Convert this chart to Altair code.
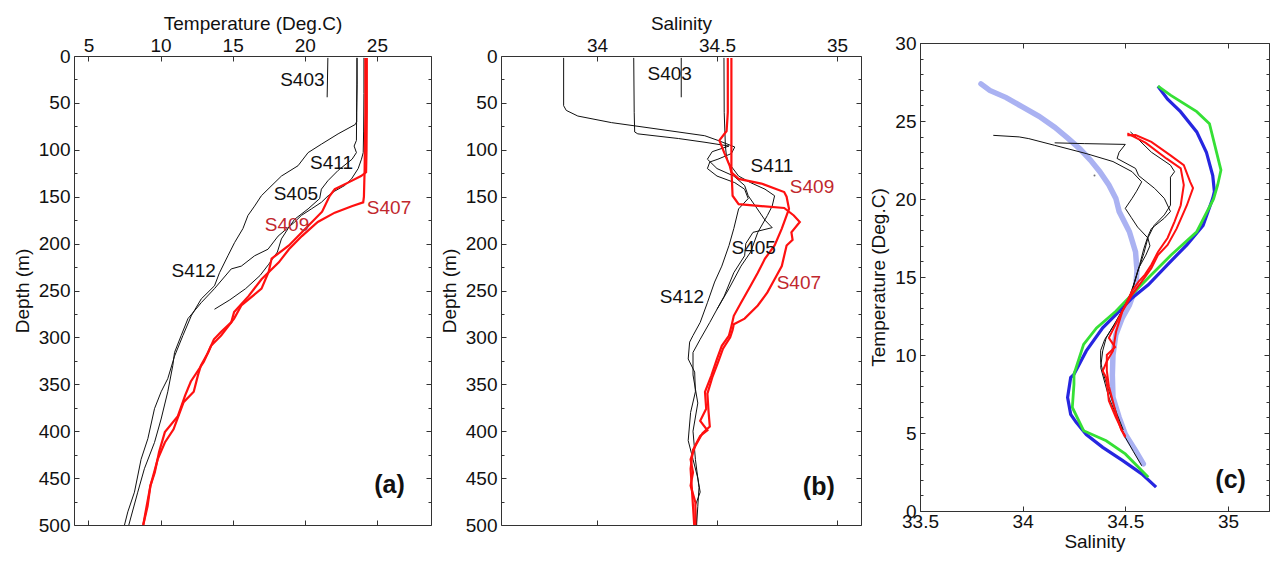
import altair as alt
import pandas as pd

FONT = "Liberation Sans"

# ---------------- Panel (a): temperature profiles (depth in m, temperature in deg C)
A_S403_D = [2, 44]
A_S403_T = [21.6, 21.55]
A_S412_D = [2, 30, 60, 70, 73, 83, 94, 103, 117, 128, 142, 149, 160, 170, 184, 199, 213, 231, 245, 259, 277, 298, 320, 344, 358, 376, 408, 430, 465, 486, 500]
A_S412_T = [23.62, 23.63, 23.6, 23.6, 23.5, 22.31, 21.15, 20.23, 19.53, 18.38, 17.45, 16.99, 16.52, 16.06, 15.71, 15.13, 14.67, 14.09, 13.74, 12.82, 12.13, 11.55, 10.97, 10.5, 10.04, 9.58, 9.12, 8.65, 8.19, 7.73, 7.5]
A_S411_D = [2, 40, 80, 103, 110, 120, 131, 138, 144, 149, 156, 163, 170, 177, 192, 206, 213, 224, 227, 248, 263, 280, 298, 316, 330, 358, 387, 412, 440, 465, 500]
A_S411_T = [24.1, 24.1, 24.08, 24.05, 23.93, 23.7, 23.24, 22.77, 22.08, 21.62, 21.15, 20.46, 19.76, 19.3, 18.15, 17.45, 16.52, 15.6, 14.9, 13.74, 12.82, 11.9, 11.43, 10.97, 10.85, 10.5, 10.04, 9.58, 8.88, 8.42, 7.8]
A_S405_D = [2, 50, 90, 96, 103, 110, 122, 133, 142, 152, 163, 174, 184, 195, 209, 222, 234, 248, 260, 270]
A_S405_T = [23.62, 23.6, 23.58, 23.42, 23.58, 23.28, 22.31, 21.6, 21.15, 21.03, 20.23, 19.3, 18.84, 18.38, 18.1, 17.5, 16.9, 15.9, 14.8, 13.74]
A_S409_D = [2, 60, 100, 124, 128, 135, 142, 149, 166, 188, 202, 216, 230, 248, 266, 280, 298, 309, 326, 347, 362, 384, 401, 422, 444, 458, 483, 500]
A_S409_T = [24.3, 24.3, 24.28, 24.25, 23.9, 23.0, 22.08, 21.73, 21.2, 19.8, 18.9, 17.7, 17.5, 17.0, 15.6, 15.1, 14.2, 13.5, 13.0, 12.1, 11.7, 11.2, 10.3, 9.9, 9.6, 9.3, 9.0, 8.8]
A_S407_D = [2, 60, 120, 150, 156, 160, 167, 177, 192, 206, 220, 238, 256, 273, 284, 294, 302, 316, 330, 340, 358, 369, 398, 412, 430, 458, 480, 500]
A_S407_T = [24.2, 24.2, 24.15, 24.1, 24.05, 23.3, 22.08, 20.9, 19.8, 18.9, 18.2, 17.0, 16.1, 15.1, 14.9, 14.2, 13.7, 13.3, 12.8, 12.6, 12.3, 11.6, 10.9, 10.3, 9.8, 9.3, 9.1, 8.8]

A_LAB_BLACK = ["S403", "S411", "S405", "S412"]
A_LAB_BLACK_X = [19.83, 21.85, 19.38, 12.3]
A_LAB_BLACK_Y = [26, 114, 147, 229]
A_LAB_RED = ["S409", "S407"]
A_LAB_RED_X = [18.77, 25.84]
A_LAB_RED_Y = [180, 162]

# ---------------- Panel (b): salinity profiles
B_S403_D = [2, 44]
B_S403_S = [34.351, 34.351]
B_S412_D = [2, 53, 58, 64, 71, 76, 85, 90, 97, 104, 110, 113, 120, 128, 135, 142, 152, 163, 184, 202, 224, 241, 263, 284, 298, 305, 323, 337, 358, 380, 410, 430, 450, 465, 479, 500]
B_S412_S = [33.861, 33.861, 33.872, 33.92, 34.06, 34.2, 34.449, 34.504, 34.574, 34.56, 34.504, 34.47, 34.46, 34.5, 34.574, 34.615, 34.63, 34.59, 34.57, 34.55, 34.52, 34.49, 34.46, 34.43, 34.40, 34.386, 34.38, 34.407, 34.41, 34.39, 34.38, 34.40, 34.42, 34.43, 34.41, 34.415]
B_S411_D = [2, 60, 81, 83, 88, 92, 96, 102, 110, 120, 128, 138, 149, 160, 175, 183, 188, 200, 213, 231, 256, 284, 302, 316, 340, 370, 400, 430, 460, 480, 500]
B_S411_S = [34.153, 34.155, 34.157, 34.17, 34.34, 34.45, 34.55, 34.48, 34.46, 34.5, 34.57, 34.615, 34.63, 34.66, 34.70, 34.73, 34.65, 34.62, 34.615, 34.57, 34.53, 34.47, 34.43, 34.40, 34.40, 34.42, 34.40, 34.41, 34.425, 34.42, 34.415]
B_S405_D = [2, 60, 96, 106, 113, 128, 135, 142, 149, 160, 170, 188, 209, 224, 248, 270]
B_S405_S = [34.529, 34.53, 34.535, 34.539, 34.546, 34.59, 34.64, 34.70, 34.74, 34.73, 34.71, 34.67, 34.64, 34.60, 34.55, 34.50]
B_S409_D = [2, 60, 80, 90, 103, 117, 124, 131, 136, 145, 150, 163, 184, 202, 216, 231, 245, 263, 277, 288, 298, 309, 323, 341, 358, 376, 389, 399, 405, 415, 430, 444, 458, 476, 500]
B_S409_S = [34.545, 34.545, 34.54, 34.51, 34.53, 34.553, 34.56, 34.59, 34.685, 34.78, 34.79, 34.80, 34.77, 34.74, 34.70, 34.67, 34.64, 34.60, 34.57, 34.56, 34.55, 34.52, 34.50, 34.476, 34.45, 34.455, 34.43, 34.46, 34.43, 34.41, 34.39, 34.40, 34.39, 34.41, 34.41]
B_S407_D = [2, 60, 120, 149, 158, 162, 170, 177, 188, 196, 202, 213, 224, 238, 252, 266, 280, 286, 292, 300, 312, 326, 343, 360, 380, 395, 402, 420, 440, 460, 480, 500]
B_S407_S = [34.56, 34.56, 34.56, 34.565, 34.59, 34.78, 34.82, 34.845, 34.81, 34.815, 34.79, 34.78, 34.77, 34.74, 34.71, 34.67, 34.615, 34.57, 34.565, 34.555, 34.525, 34.505, 34.48, 34.46, 34.465, 34.47, 34.44, 34.40, 34.39, 34.395, 34.40, 34.405]

B_LAB_BLACK = ["S403", "S411", "S405", "S412"]
B_LAB_BLACK_X = [34.303, 34.729, 34.653, 34.354]
B_LAB_BLACK_Y = [19, 117, 205, 257]
B_LAB_RED = ["S409", "S407"]
B_LAB_RED_X = [34.896, 34.841]
B_LAB_RED_Y = [140, 242]

# ---------------- Panel (c): T-S diagram (salinity, temperature)
C_LAV_S = [33.797, 33.84, 33.92, 33.999, 34.08, 34.156, 34.22, 34.28, 34.33, 34.376, 34.42, 34.454, 34.47, 34.52, 34.55, 34.557, 34.55, 34.52, 34.486, 34.454, 34.44, 34.437, 34.44, 34.47, 34.5, 34.55, 34.588]
C_LAV_T = [27.38, 26.96, 26.5, 25.9, 25.3, 24.6, 23.9, 23.2, 22.5, 21.75, 20.9, 20.04, 19.2, 17.9, 16.6, 15.4, 14.3, 13.2, 12.4, 11.3, 10.0, 8.7, 7.28, 6.0, 4.93, 3.87, 3.02]
C_BLUE_S = [34.659, 34.706, 34.769, 34.848, 34.895, 34.926, 34.934, 34.926, 34.879, 34.8, 34.706, 34.612, 34.533, 34.47, 34.39, 34.31, 34.25, 34.234, 34.219, 34.234, 34.26, 34.31, 34.39, 34.486, 34.58, 34.65]
C_BLUE_T = [27.23, 26.4, 25.6, 24.3, 23.0, 21.5, 20.47, 20.04, 18.3, 17.06, 15.8, 14.5, 13.66, 12.8, 11.74, 10.26, 8.76, 8.55, 7.28, 6.2, 5.7, 4.9, 4.08, 3.24, 2.38, 1.53]
C_GREEN_S = [34.659, 34.722, 34.848, 34.91, 34.966, 34.95, 34.93, 34.848, 34.722, 34.627, 34.549, 34.454, 34.36, 34.297, 34.25, 34.25, 34.242, 34.297, 34.407, 34.5, 34.612]
C_GREEN_T = [27.23, 26.64, 25.6, 24.83, 21.85, 20.9, 20.0, 17.9, 16.4, 15.15, 14.1, 12.8, 11.74, 10.68, 8.76, 8.13, 6.64, 5.15, 4.5, 3.66, 2.17]
C_RED1_S = [34.51, 34.55, 34.627, 34.72, 34.785, 34.816, 34.83, 34.8, 34.75, 34.706, 34.659, 34.627, 34.58, 34.533, 34.486, 34.455, 34.44, 34.41, 34.39, 34.407, 34.42, 34.454, 34.5]
C_RED1_T = [24.08, 24.1, 23.66, 22.8, 22.17, 21.1, 20.7, 19.6, 18.1, 17.06, 16.4, 15.57, 14.7, 13.87, 12.8, 11.5, 10.26, 9.6, 8.98, 8.55, 7.07, 6.0, 4.72]
C_RED2_S = [34.51, 34.6, 34.7, 34.77, 34.785, 34.77, 34.74, 34.706, 34.659, 34.627, 34.596, 34.565, 34.533, 34.5, 34.47, 34.42, 34.45, 34.41, 34.41, 34.42, 34.44, 34.46, 34.48, 34.5]
C_RED2_T = [24.2, 23.6, 22.6, 21.96, 20.9, 19.6, 18.55, 17.5, 16.6, 15.79, 15.15, 14.7, 14.1, 13.2, 12.4, 11.1, 10.5, 10.0, 9.0, 8.0, 7.0, 6.0, 5.2, 4.8]
C_BLK1_S = [33.857, 33.983, 34.03, 34.156, 34.313, 34.44, 34.533, 34.58, 34.555, 34.533, 34.5, 34.53, 34.56, 34.61, 34.62, 34.6, 34.565, 34.533, 34.5, 34.455, 34.407, 34.39, 34.38, 34.42, 34.454, 34.5, 34.54, 34.58]
C_BLK1_T = [24.08, 23.98, 23.87, 23.44, 22.9, 22.4, 21.75, 21.1, 20.5, 20.04, 19.4, 18.8, 18.2, 17.5, 17.0, 16.4, 15.57, 14.1, 13.2, 12.17, 11.1, 10.26, 9.2, 7.28, 6.2, 4.72, 3.8, 2.9]
C_BLK2_S = [34.156, 34.3, 34.5, 34.47, 34.46, 34.55, 34.565, 34.643, 34.69, 34.72, 34.69, 34.627, 34.61, 34.59, 34.57, 34.54, 34.52]
C_BLK2_T = [23.6, 23.55, 23.5, 23.0, 22.6, 21.96, 21.5, 20.68, 20.04, 19.2, 18.77, 18.1, 17.6, 16.8, 15.8, 14.5, 13.74]
C_BLK3_S = [34.525, 34.55, 34.627, 34.72, 34.74, 34.72, 34.72, 34.69, 34.64, 34.61, 34.59, 34.56, 34.53, 34.49, 34.45, 34.4, 34.38, 34.38, 34.4, 34.43, 34.46, 34.49]
C_BLK3_T = [24.3, 24.0, 23.0, 22.17, 21.75, 21.4, 19.6, 18.98, 18.3, 17.5, 16.5, 15.3, 14.0, 13.0, 12.0, 11.0, 10.3, 9.5, 8.5, 7.3, 6.2, 5.2]
C_S403_S = [34.35]
C_S403_T = [21.5]


def prof(station, depth, val):
    return pd.DataFrame({"station": station, "depth": depth, "val": val, "i": list(range(len(depth)))})


def ts(station, s, t):
    return pd.DataFrame({"station": station, "sal": s, "temp": t, "i": list(range(len(s)))})


def labels(names, xs, ys):
    return pd.DataFrame({"name": names, "x": xs, "y": ys})


TICK = 5
MINOR = 3


def ax(orient, values, labels=True, title=None, fmt=None, size=TICK, **kw):
    extra = dict(kw)
    if fmt is not None:
        extra["format"] = fmt
    return alt.Axis(orient=orient, values=values, labels=labels, title=title,
                    tickSize=size, offset=-size, domain=False, grid=False,
                    labelFlush=False, labelOverlap=False, **extra)


DEPTH_MAJOR = list(range(0, 501, 50))
DEPTH_MINOR = list(range(25, 500, 50))


def profile_panel(black_df, red_df, lab_b, lab_r, tag, tag_x, tag_y, xscale, xvals, xfmt, xtitle, width):
    yscale = alt.Scale(domain=[0, 500], reverse=True, nice=False, zero=False)
    black = alt.Chart(black_df).mark_line(color="#111111", strokeWidth=1.0).encode(
        x=alt.X("val:Q", scale=xscale,
                axis=ax("top", xvals, title=xtitle, fmt=xfmt, labelPadding=1, titlePadding=3)),
        y=alt.Y("depth:Q", scale=yscale,
                axis=ax("left", DEPTH_MAJOR, title="Depth (m)", fmt="d", labelPadding=4, titlePadding=6)),
        detail="station:N", order="i:Q")
    red = alt.Chart(red_df).mark_line(color="#ff1010", strokeWidth=2.2).encode(
        x=alt.X("val:Q", scale=xscale, axis=ax("bottom", xvals, labels=False)),
        y=alt.Y("depth:Q", scale=yscale, axis=ax("right", DEPTH_MAJOR, labels=False)),
        detail="station:N", order="i:Q")
    tb = alt.Chart(lab_b).mark_text(font=FONT, fontSize=19, color="#111111", align="center", baseline="middle").encode(
        x=alt.X("x:Q", scale=xscale, axis=None),
        y=alt.Y("y:Q", scale=yscale, axis=ax("left", DEPTH_MINOR, labels=False, size=MINOR)),
        text="name:N")
    tr = alt.Chart(lab_r).mark_text(font=FONT, fontSize=19, color="#c1272d", align="center", baseline="middle").encode(
        x=alt.X("x:Q", scale=xscale, axis=None),
        y=alt.Y("y:Q", scale=yscale, axis=ax("right", DEPTH_MINOR, labels=False, size=MINOR)),
        text="name:N")
    tg = alt.Chart(labels([tag], [tag_x], [tag_y])).mark_text(
        font=FONT, fontSize=25, fontWeight="bold", color="#111111", align="center", baseline="middle").encode(
        x=alt.X("x:Q", scale=xscale, axis=None),
        y=alt.Y("y:Q", scale=yscale, axis=None),
        text="name:N")
    return alt.layer(black, red, tb, tr, tg).resolve_axis(x="independent", y="independent").properties(
        width=width, height=469)


a_black = pd.concat([prof("S403", A_S403_D, A_S403_T), prof("S412", A_S412_D, A_S412_T),
                     prof("S411", A_S411_D, A_S411_T), prof("S405", A_S405_D, A_S405_T)])
a_red = pd.concat([prof("S409", A_S409_D, A_S409_T), prof("S407", A_S407_D, A_S407_T)])
b_black = pd.concat([prof("S403", B_S403_D, B_S403_S), prof("S412", B_S412_D, B_S412_S),
                     prof("S411", B_S411_D, B_S411_S), prof("S405", B_S405_D, B_S405_S)])
b_red = pd.concat([prof("S409", B_S409_D, B_S409_S), prof("S407", B_S407_D, B_S407_S)])

panel_a = profile_panel(a_black, a_red,
                        labels(A_LAB_BLACK, A_LAB_BLACK_X, A_LAB_BLACK_Y),
                        labels(A_LAB_RED, A_LAB_RED_X, A_LAB_RED_Y),
                        "(a)", 25.875, 457,
                        alt.Scale(domain=[4, 28.75], nice=False, zero=False),
                        [5, 10, 15, 20, 25], "d", "Temperature (Deg.C)", 357)
panel_b = profile_panel(b_black, b_red,
                        labels(B_LAB_BLACK, B_LAB_BLACK_X, B_LAB_BLACK_Y),
                        labels(B_LAB_RED, B_LAB_RED_X, B_LAB_RED_Y),
                        "(b)", 34.924, 460,
                        alt.Scale(domain=[33.6, 35.1], nice=False, zero=False),
                        [34, 34.5, 35], "~g", "Salinity", 360)

# ---- panel (c)
xs_c = alt.Scale(domain=[33.5, 35.2], nice=False, zero=False)
ys_c = alt.Scale(domain=[0, 30], nice=False, zero=False)
SAL_TICKS = [33.5, 34, 34.5, 35]
T_MAJOR = list(range(0, 31, 5))
T_MINOR = list(range(0, 31, 1))

lav = alt.Chart(ts("clim", C_LAV_S, C_LAV_T)).mark_line(
    color="#aab2f2", strokeWidth=5.5, strokeCap="round").encode(
    x=alt.X("sal:Q", scale=xs_c, axis=ax("bottom", SAL_TICKS, title="Salinity", fmt="~g",
                                        labelPadding=1, titlePadding=1)),
    y=alt.Y("temp:Q", scale=ys_c, axis=ax("left", T_MAJOR, title="Temperature (Deg.C)", fmt="d",
                                         labelPadding=4, titlePadding=6)),
    order="i:Q")
blue = alt.Chart(ts("blue", C_BLUE_S, C_BLUE_T)).mark_line(color="#2626e0", strokeWidth=3.2).encode(
    x=alt.X("sal:Q", scale=xs_c, axis=ax("top", SAL_TICKS, labels=False)),
    y=alt.Y("temp:Q", scale=ys_c, axis=ax("right", T_MAJOR, labels=False)),
    order="i:Q")
green = alt.Chart(ts("green", C_GREEN_S, C_GREEN_T)).mark_line(color="#35e035", strokeWidth=2.8).encode(
    x=alt.X("sal:Q", scale=xs_c, axis=None),
    y=alt.Y("temp:Q", scale=ys_c, axis=ax("left", T_MINOR, labels=False, size=MINOR)),
    order="i:Q")
blk = alt.Chart(pd.concat([ts("k1", C_BLK1_S, C_BLK1_T), ts("k2", C_BLK2_S, C_BLK2_T),
                           ts("k3", C_BLK3_S, C_BLK3_T)])).mark_line(color="#111111", strokeWidth=1.0).encode(
    x=alt.X("sal:Q", scale=xs_c, axis=None),
    y=alt.Y("temp:Q", scale=ys_c, axis=ax("right", T_MINOR, labels=False, size=MINOR)),
    detail="station:N", order="i:Q")
redc = alt.Chart(pd.concat([ts("r1", C_RED1_S, C_RED1_T), ts("r2", C_RED2_S, C_RED2_T)])).mark_line(
    color="#ff1010", strokeWidth=2.0).encode(
    x=alt.X("sal:Q", scale=xs_c, axis=None),
    y=alt.Y("temp:Q", scale=ys_c, axis=None),
    detail="station:N", order="i:Q")
dot = alt.Chart(ts("S403", C_S403_S, C_S403_T)).mark_point(filled=True, size=4, color="#333333").encode(
    x=alt.X("sal:Q", scale=xs_c, axis=None),
    y=alt.Y("temp:Q", scale=ys_c, axis=None))
tagc = alt.Chart(labels(["(c)"], [35.013], [2.0])).mark_text(
    font=FONT, fontSize=25, fontWeight="bold", color="#111111", align="center", baseline="middle").encode(
    x=alt.X("x:Q", scale=xs_c, axis=None),
    y=alt.Y("y:Q", scale=ys_c, axis=None),
    text="name:N")

panel_c = alt.layer(lav, blue, green, blk, redc, dot, tagc).resolve_axis(
    x="independent", y="independent").properties(width=349, height=468)


def spacer():
    # invisible 1x1 cell used only to shift a column vertically
    return alt.Chart(pd.DataFrame({"v": [0]})).mark_point(opacity=0, size=1, filled=True).encode(
        x=alt.X("v:Q", axis=None), y=alt.Y("v:Q", axis=None)
    ).properties(width=1, height=1, view=alt.ViewBackground(strokeOpacity=0))


left = alt.vconcat(spacer(), alt.hconcat(panel_a, panel_b, spacing=7), spacing=4)
right = alt.vconcat(spacer(), panel_c, spacing=24)

chart = alt.hconcat(left, right, spacing=7).properties(
    padding={"left": 4, "top": 0, "right": 0, "bottom": 0}
).configure_axis(
    labelFont=FONT, titleFont=FONT, labelFontSize=19, titleFontSize=19, titleFontWeight="normal",
    labelColor="#111111", titleColor="#111111", tickColor="#333333", tickWidth=1
).configure_view(stroke="#333333", strokeWidth=1)

chart.save("out.html", embed_options={"renderer": "svg", "actions": False})
